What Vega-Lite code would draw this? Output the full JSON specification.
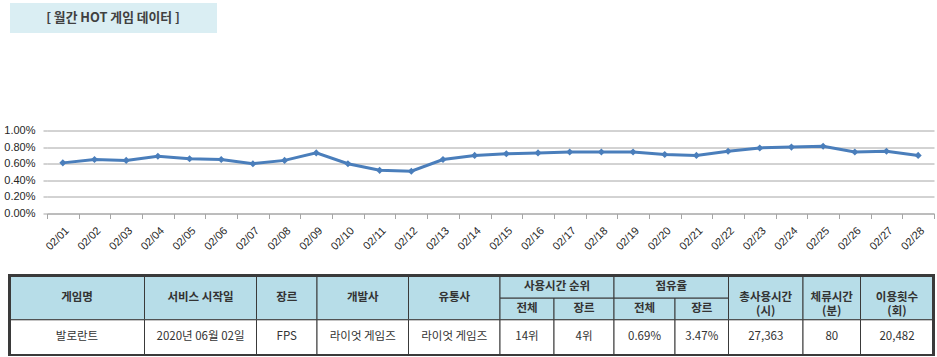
{
  "$schema": "https://vega.github.io/schema/vega-lite/v6.json",
  "padding": {"left": 3, "top": 3, "right": 0, "bottom": 0},
  "background": "white",
  "config": {"view": {"stroke": null}},
  "resolve": {"scale": {"x": "independent", "y": "independent"}},
  "spacing": 91.5,
  "vconcat": [
    {
      "width": 887,
      "height": 30,
      "data": {"values": [{"label": "[ 월간 HOT 게임 데이터 ]"}]},
      "layer": [
        {
          "mark": {"type": "rect", "color": "#daeef3"},
          "encoding": {
            "x": {"datum": 10, "type": "quantitative", "scale": {"domain": [47, 934], "nice": false, "zero": false}, "axis": null},
            "x2": {"datum": 217}
          }
        },
        {
          "mark": {"type": "text", "font": "Noto Sans CJK KR", "fontSize": 12.8, "fontWeight": "bold", "color": "#404040", "align": "center", "baseline": "middle"},
          "encoding": {
            "x": {"datum": 113, "type": "quantitative"},
            "text": {"field": "label"}
          }
        }
      ]
    },
    {
      "spacing": 22,
      "resolve": {"scale": {"x": "independent", "y": "independent"}},
      "vconcat": [
        {
          "width": 887,
          "height": 83,
          "data": {"values": [
            {"date": "02/01", "share": 0.0061},
            {"date": "02/02", "share": 0.0065},
            {"date": "02/03", "share": 0.0064},
            {"date": "02/04", "share": 0.0069},
            {"date": "02/05", "share": 0.0066},
            {"date": "02/06", "share": 0.0065},
            {"date": "02/07", "share": 0.0060},
            {"date": "02/08", "share": 0.0064},
            {"date": "02/09", "share": 0.0073},
            {"date": "02/10", "share": 0.0060},
            {"date": "02/11", "share": 0.0052},
            {"date": "02/12", "share": 0.0051},
            {"date": "02/13", "share": 0.0065},
            {"date": "02/14", "share": 0.0070},
            {"date": "02/15", "share": 0.0072},
            {"date": "02/16", "share": 0.0073},
            {"date": "02/17", "share": 0.0074},
            {"date": "02/18", "share": 0.0074},
            {"date": "02/19", "share": 0.0074},
            {"date": "02/20", "share": 0.0071},
            {"date": "02/21", "share": 0.0070},
            {"date": "02/22", "share": 0.0075},
            {"date": "02/23", "share": 0.0079},
            {"date": "02/24", "share": 0.0080},
            {"date": "02/25", "share": 0.0081},
            {"date": "02/26", "share": 0.0074},
            {"date": "02/27", "share": 0.0075},
            {"date": "02/28", "share": 0.0070}
          ]},
          "encoding": {
            "x": {
              "field": "date", "type": "ordinal", "sort": null,
              "scale": {"type": "band", "paddingInner": 0, "paddingOuter": 0},
              "axis": {"title": null, "labelAngle": -45, "tickBand": "extent", "grid": false, "domainColor": "#a6a6a6", "tickColor": "#a6a6a6", "tickSize": 5, "labelFont": "Liberation Sans", "labelFontSize": 11, "labelColor": "#262626", "labelPadding": 6}
            },
            "y": {
              "field": "share", "type": "quantitative",
              "scale": {"domain": [0, 0.01], "nice": false, "zero": true},
              "axis": {"title": null, "values": [0, 0.002, 0.004, 0.006, 0.008, 0.01], "format": ".2%", "grid": true, "gridColor": "#a6a6a6", "domain": false, "tickColor": "#a6a6a6", "tickSize": 4, "labelPadding": 8, "labelFont": "Liberation Sans", "labelFontSize": 11, "labelColor": "#262626"}
            }
          },
          "layer": [
            {"mark": {"type": "line", "color": "#4a7ebb", "strokeWidth": 3}},
            {"mark": {"type": "point", "shape": "diamond", "filled": true, "color": "#4a7ebb", "size": 50, "opacity": 1}}
          ]
        },
        {
          "width": 887,
          "height": 79.5,
          "data": {"values": [
            {"c0": 9.5, "c1": 144.5, "r0": 274, "r1": 318.3, "label": "게임명", "kind": "head"},
            {"c0": 144.5, "c1": 256.5, "r0": 274, "r1": 318.3, "label": "서비스 시작일", "kind": "head"},
            {"c0": 256.5, "c1": 317, "r0": 274, "r1": 318.3, "label": "장르", "kind": "head"},
            {"c0": 317, "c1": 408.5, "r0": 274, "r1": 318.3, "label": "개발사", "kind": "head"},
            {"c0": 408.5, "c1": 500, "r0": 274, "r1": 318.3, "label": "유통사", "kind": "head"},
            {"c0": 500, "c1": 614, "r0": 274, "r1": 296.7, "label": "사용시간 순위", "kind": "head"},
            {"c0": 614, "c1": 728.5, "r0": 274, "r1": 296.7, "label": "점유율", "kind": "head"},
            {"c0": 500, "c1": 554, "r0": 296.7, "r1": 318.3, "label": "전체", "kind": "head"},
            {"c0": 554, "c1": 614, "r0": 296.7, "r1": 318.3, "label": "장르", "kind": "head"},
            {"c0": 614, "c1": 675, "r0": 296.7, "r1": 318.3, "label": "전체", "kind": "head"},
            {"c0": 675, "c1": 728.5, "r0": 296.7, "r1": 318.3, "label": "장르", "kind": "head"},
            {"c0": 728.5, "c1": 803, "r0": 274, "r1": 318.3, "label": "총사용시간\n(시)", "kind": "head"},
            {"c0": 803, "c1": 860.5, "r0": 274, "r1": 318.3, "label": "체류시간\n(분)", "kind": "head"},
            {"c0": 860.5, "c1": 933.5, "r0": 274, "r1": 318.3, "label": "이용횟수\n(회)", "kind": "head"},
            {"c0": 9.5, "c1": 144.5, "r0": 318.3, "r1": 353.5, "label": "발로란트", "kind": "body"},
            {"c0": 144.5, "c1": 256.5, "r0": 318.3, "r1": 353.5, "label": "2020년 06월 02일", "kind": "body"},
            {"c0": 256.5, "c1": 317, "r0": 318.3, "r1": 353.5, "label": "FPS", "kind": "body"},
            {"c0": 317, "c1": 408.5, "r0": 318.3, "r1": 353.5, "label": "라이엇 게임즈", "kind": "body"},
            {"c0": 408.5, "c1": 500, "r0": 318.3, "r1": 353.5, "label": "라이엇 게임즈", "kind": "body"},
            {"c0": 500, "c1": 554, "r0": 318.3, "r1": 353.5, "label": "14위", "kind": "body"},
            {"c0": 554, "c1": 614, "r0": 318.3, "r1": 353.5, "label": "4위", "kind": "body"},
            {"c0": 614, "c1": 675, "r0": 318.3, "r1": 353.5, "label": "0.69%", "kind": "body"},
            {"c0": 675, "c1": 728.5, "r0": 318.3, "r1": 353.5, "label": "3.47%", "kind": "body"},
            {"c0": 728.5, "c1": 803, "r0": 318.3, "r1": 353.5, "label": "27,363", "kind": "body"},
            {"c0": 803, "c1": 860.5, "r0": 318.3, "r1": 353.5, "label": "80", "kind": "body"},
            {"c0": 860.5, "c1": 933.5, "r0": 318.3, "r1": 353.5, "label": "20,482", "kind": "body"}
          ]},
          "layer": [
            {
              "mark": {"type": "rect", "stroke": "#3a3a3a", "strokeWidth": 1},
              "encoding": {
                "x": {"field": "c0", "type": "quantitative", "scale": {"domain": [47, 934], "nice": false, "zero": false}, "axis": null},
                "x2": {"field": "c1"},
                "y": {"field": "r0", "type": "quantitative", "scale": {"domain": [274, 353.5], "nice": false, "zero": false, "reverse": true}, "axis": null},
                "y2": {"field": "r1"},
                "fill": {"field": "kind", "type": "nominal", "scale": {"domain": ["head", "body"], "range": ["#b7dde8", "#ffffff"]}, "legend": null}
              }
            },
            {
              "mark": {"type": "rect", "fill": null, "filled": false, "stroke": "#3a3a3a", "strokeWidth": 2},
              "encoding": {
                "x": {"datum": 9.5, "type": "quantitative"},
                "x2": {"datum": 933.5},
                "y": {"datum": 274, "type": "quantitative"},
                "y2": {"datum": 353.5}
              }
            },
            {
              "transform": [
                {"filter": "datum.kind == 'head'"},
                {"calculate": "(datum.c0 + datum.c1) / 2", "as": "xc"},
                {"calculate": "(datum.r0 + datum.r1) / 2", "as": "yc"}
              ],
              "mark": {"type": "text", "font": "Noto Sans CJK KR", "fontSize": 11.5, "fontWeight": "bold", "color": "#333333", "align": "center", "baseline": "middle", "lineBreak": "\n", "lineHeight": 14},
              "encoding": {
                "x": {"field": "xc", "type": "quantitative"},
                "y": {"field": "yc", "type": "quantitative"},
                "text": {"field": "label"}
              }
            },
            {
              "transform": [
                {"filter": "datum.kind == 'body'"},
                {"calculate": "(datum.c0 + datum.c1) / 2", "as": "xc"},
                {"calculate": "(datum.r0 + datum.r1) / 2", "as": "yc"}
              ],
              "mark": {"type": "text", "font": "Noto Sans CJK KR", "fontSize": 11.5, "color": "#333333", "align": "center", "baseline": "middle"},
              "encoding": {
                "x": {"field": "xc", "type": "quantitative"},
                "y": {"field": "yc", "type": "quantitative"},
                "text": {"field": "label"}
              }
            }
          ]
        }
      ]
    }
  ]
}
